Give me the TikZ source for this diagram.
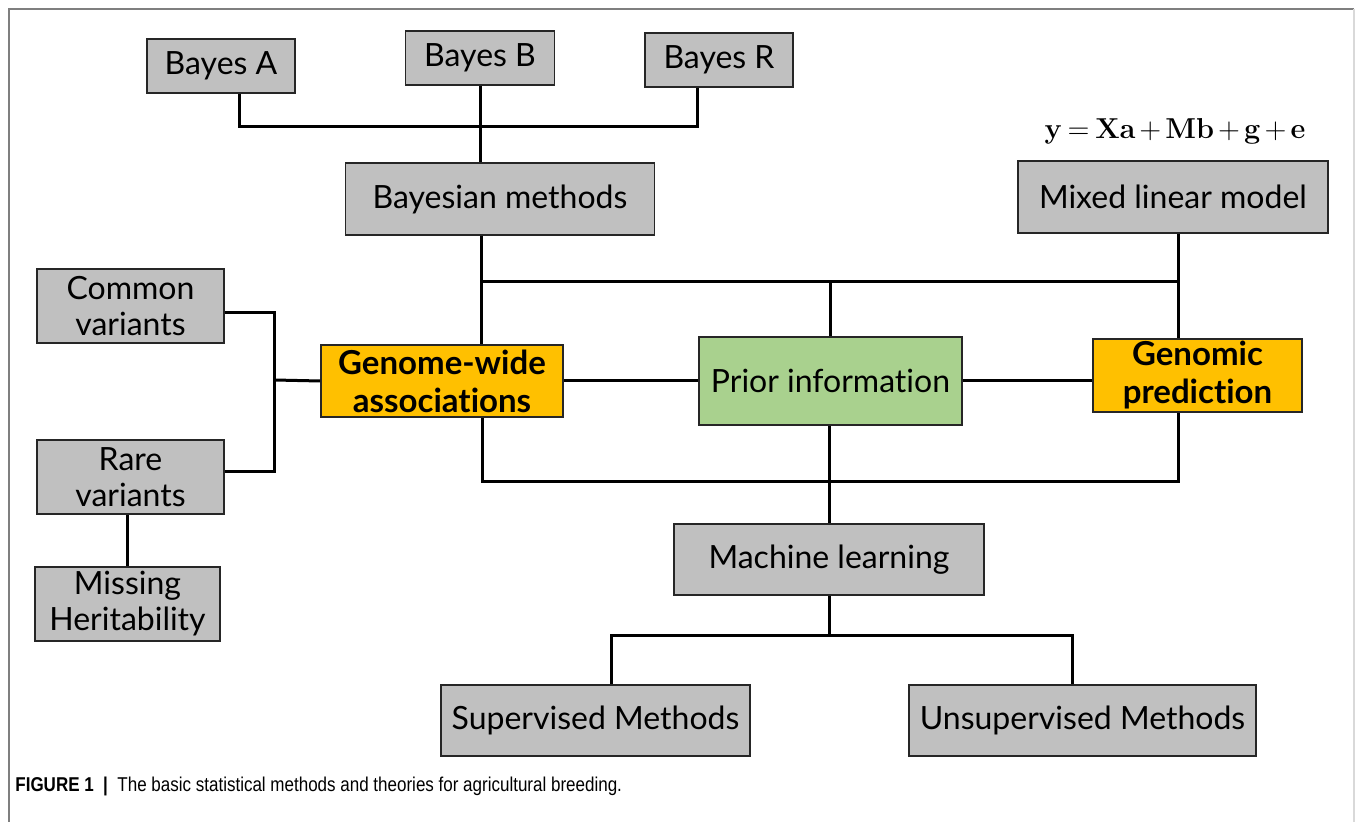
\documentclass[tikz,border=0pt]{standalone}
\usepackage[no-math]{fontspec}
\setmainfont{Lato}[RawFeature={-liga}]
\newfontfamily\capfont[FakeStretch=0.85]{Liberation Sans}
\usepackage{amsmath}
\definecolor{boxgray}{HTML}{C0C0C0}
\definecolor{boxorange}{HTML}{FFC000}
\definecolor{boxgreen}{HTML}{A9D18E}
\definecolor{framegray}{HTML}{7F7F7F}
\tikzset{
  basebox/.style={draw=black!85, line width=0.8pt, inner sep=0pt, align=center,
    font=\fontsize{16}{18}\selectfont},
  gbox/.style={basebox, fill=boxgray},
  obox/.style={basebox, fill=boxorange, font=\bfseries\fontsize{16.5}{19}\selectfont},
  pbox/.style={basebox, fill=boxgreen},
  conn/.style={line width=1.5pt, black, line join=miter},
}
\begin{document}
\begin{tikzpicture}[x=0.5pt, y=-0.5pt]
\useasboundingbox (0,0) rectangle (1355,822);
% frame
\draw[framegray, line width=0.8pt] (9,822) -- (9,9) -- (1354,9);
\draw[black!15, line width=0.6pt] (1354,9) -- (1354,822);
% nodes
\node[gbox, minimum width=74pt, minimum height=27pt] (ba) at (221,66) {Bayes A};
\node[gbox, minimum width=74.5pt, minimum height=27pt] (bb) at (480,58) {Bayes B};
\node[gbox, minimum width=74pt, minimum height=27pt] (br) at (719,60) {Bayes R};
\node[gbox, minimum width=154.5pt, minimum height=36pt] (bm) at (500,199) {Bayesian methods};
\node[font=\fontsize{15}{16}\selectfont] (eq) at (1175,131)
  {\medmuskip=2.5mu\thickmuskip=3.5mu$\mathbf{y}=\mathbf{Xa}+\mathbf{Mb}+\mathbf{g}+\mathbf{e}$};
\node[gbox, minimum width=155pt, minimum height=36pt] (mlm) at (1173,197) {Mixed linear model};
\node[gbox, minimum width=93.5pt, minimum height=37pt] (cv) at (130.5,306) {Common\\variants};
\node[gbox, minimum width=93.5pt, minimum height=37pt] (rv) at (130.5,477) {Rare\\variants};
\node[gbox, minimum width=92.5pt, minimum height=37pt] (mh) at (127.5,604) {Missing\\Heritability};
\node[obox, minimum width=121pt, minimum height=36pt] (gwa) at (442,381) {Genome-wide\\associations};
\node[pbox, minimum width=131.5pt, minimum height=44pt] (pi) at (830.5,381) {Prior information};
\node[obox, minimum width=104.5pt, minimum height=36.5pt] (gp) at (1197.5,375.5) {Genomic\\prediction};
\node[gbox, minimum width=155pt, minimum height=35.5pt] (ml) at (829,559.5) {Machine learning};
\node[gbox, minimum width=154.5pt, minimum height=35.5pt] (sm) at (595.5,720.5) {Supervised Methods};
\node[gbox, minimum width=173.5pt, minimum height=35.5pt] (um) at (1082.5,720.5) {Unsupervised Methods};
% caption
\node[anchor=base west, inner sep=0pt, font=\capfont\fontsize{10}{11}\selectfont] (cap) at (15,792)
  {\textbf{FIGURE 1\ \ |}\ \ The basic statistical methods and theories for agricultural breeding.};
% junction coordinates
\coordinate (bj) at (480,127);
\coordinate (tl) at (481,282);
\coordinate (tr) at (1178,282);
\coordinate (bl) at (482,482);
\coordinate (brr) at (1178,482);
\coordinate (lj) at (274,380);
\coordinate (mj) at (829,636);
\coordinate (sj) at (611,636);
\coordinate (uj) at (1072,636);
% connectors
\draw[conn] (ba.south -| 239,0) |- (bj) -| (br.south -| 697,0);
\draw[conn] (bb.south) -- (bm.north -| bb.south);
\draw[conn] (bm.south -| tl) -- (gwa.north -| tl);
\draw[conn] (mlm.south -| tr) -- (gp.north -| tr);
\draw[conn] (tl) -- (tr);
\draw[conn] (pi.north) -- (pi.north |- tl);
\draw[conn] (gwa.south -| bl) -- (bl) -- (brr) -- (gp.south -| brr);
\draw[conn] (ml.north |- pi.south) -- (ml.north);
\draw[conn] (cv.east |- 0,313) -| (lj) |- (rv.east |- 0,472);
\draw[conn] (lj) -- (gwa.west);
\draw[conn] (gwa.east) -- (pi.west);
\draw[conn] (pi.west -| pi.east) -- (gp.west |- pi.east);
\draw[conn] (mh.north |- rv.south) -- (mh.north);
\draw[conn] (ml.south) -- (mj);
\draw[conn] (sm.north -| sj) -- (sj) -- (uj) -- (um.north -| uj);
\end{tikzpicture}
\end{document}
